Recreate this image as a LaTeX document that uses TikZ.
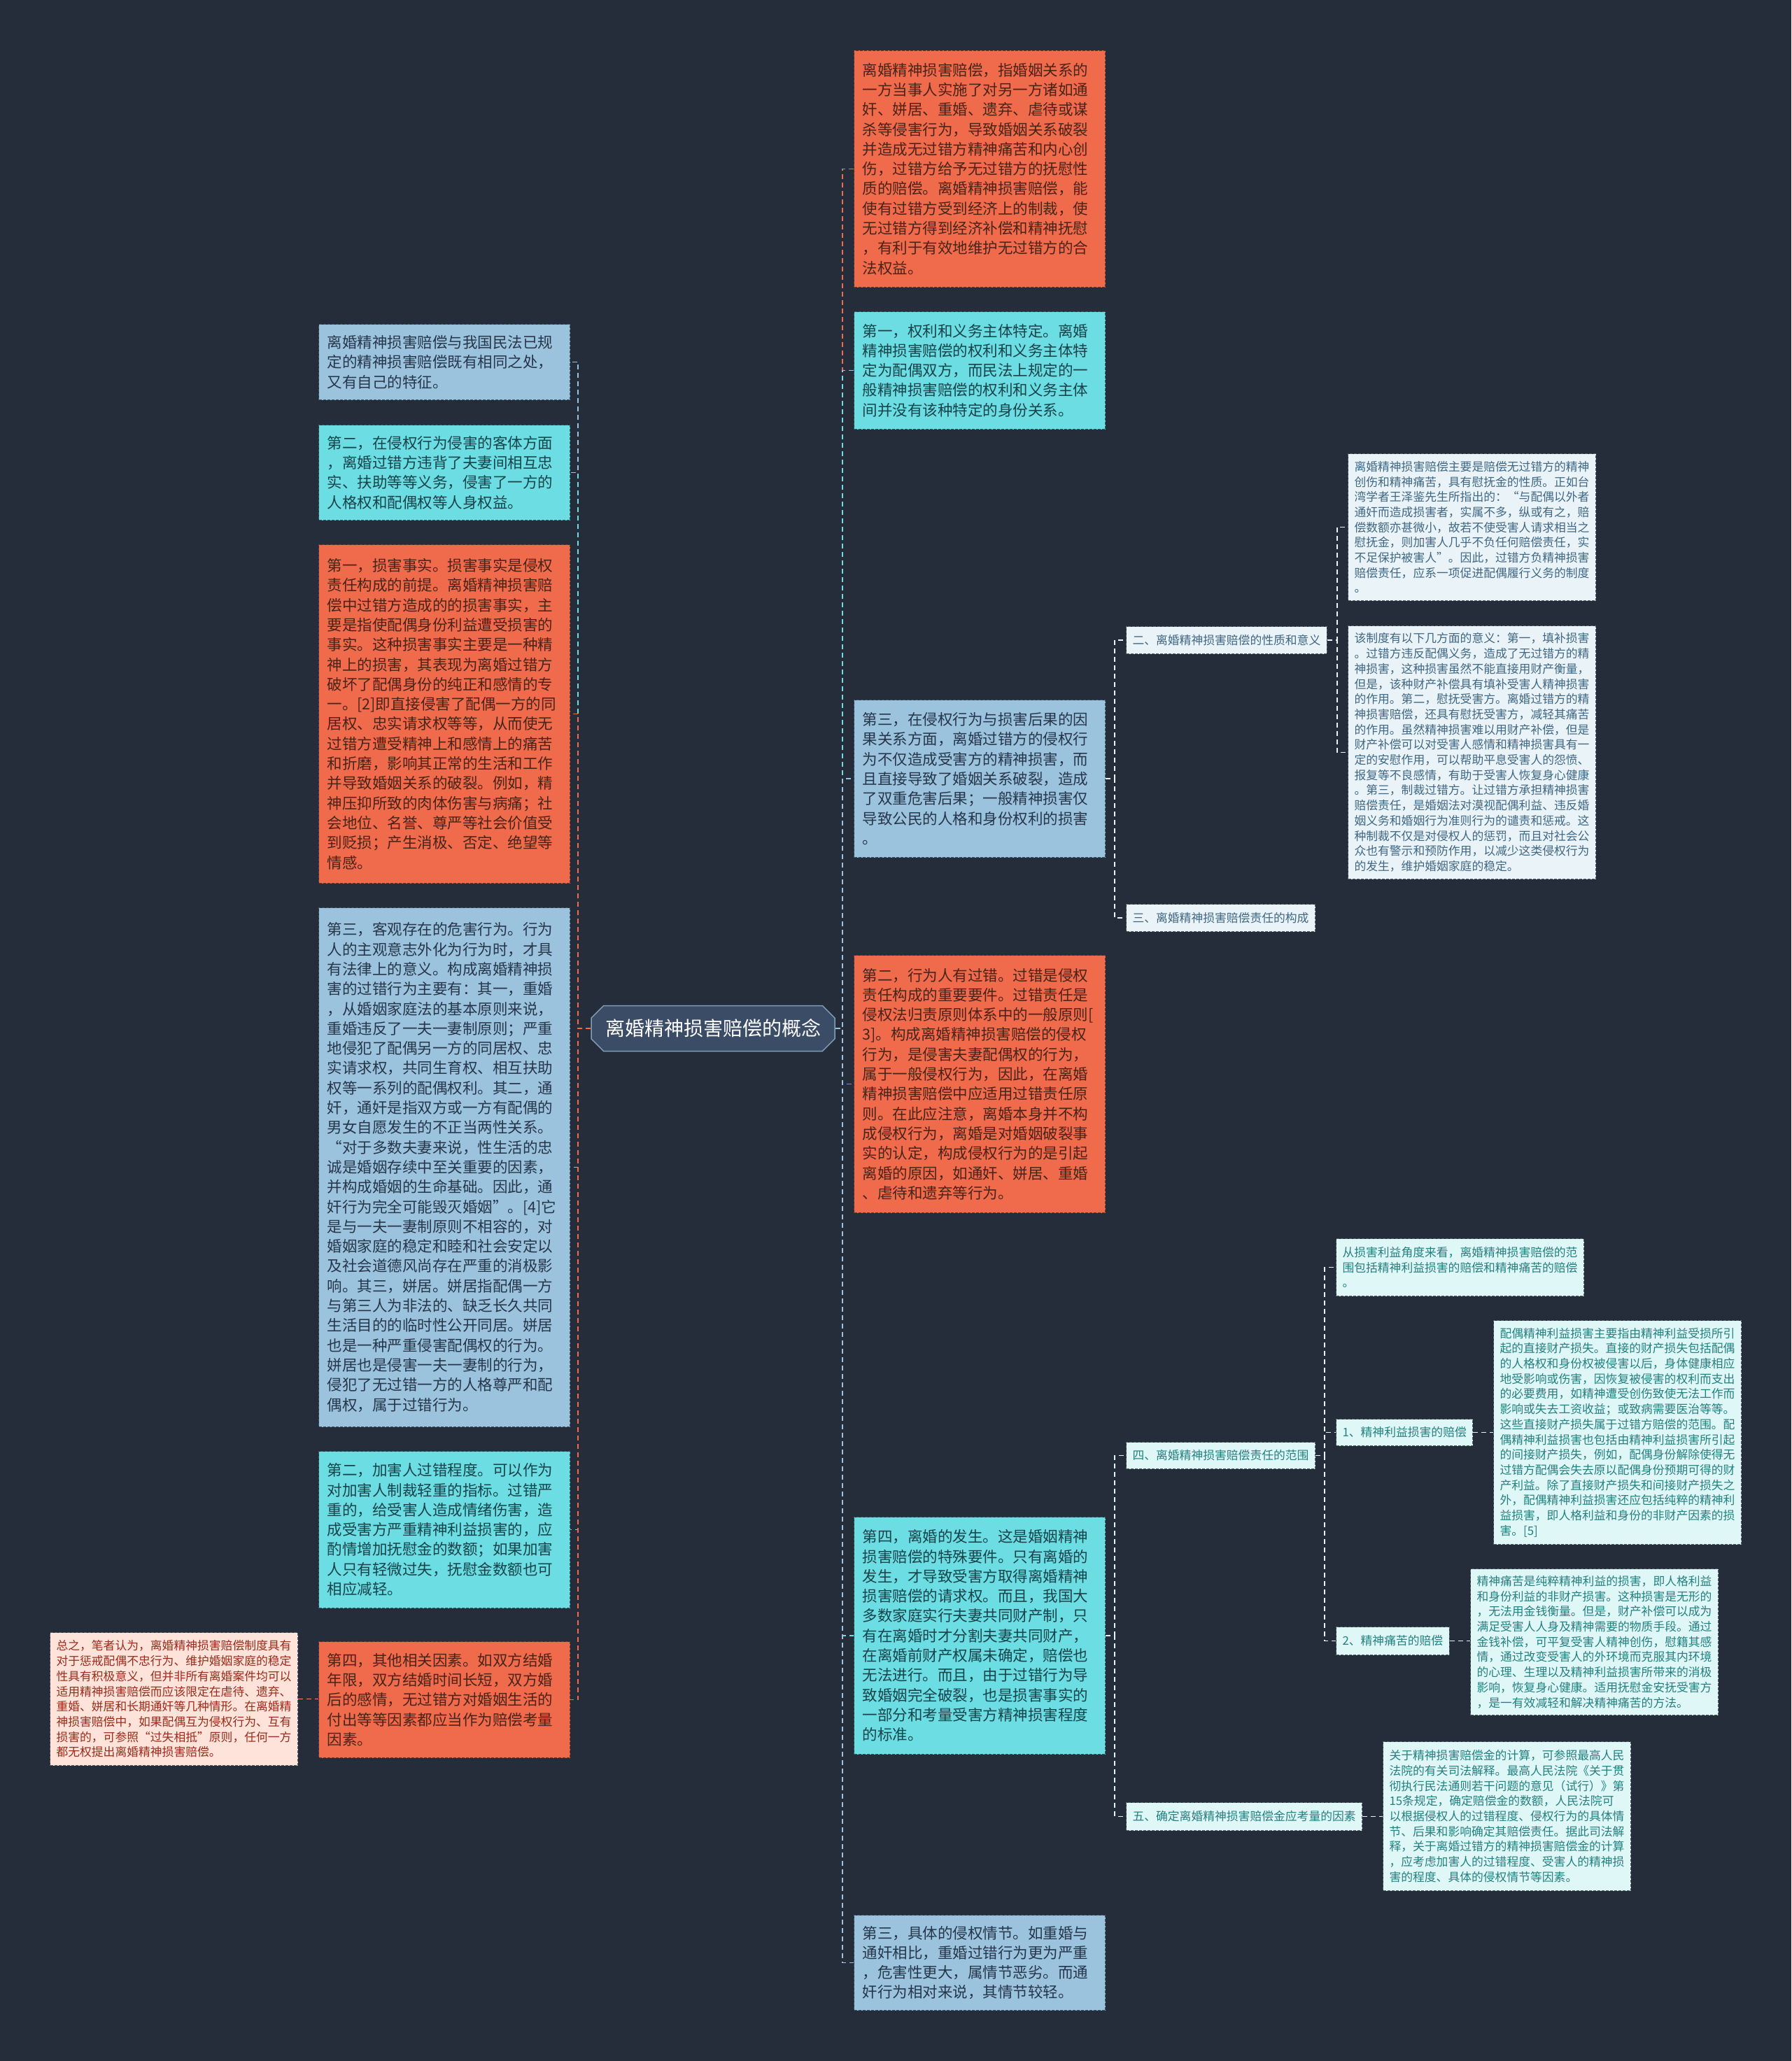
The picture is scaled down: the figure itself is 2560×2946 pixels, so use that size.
\documentclass[tikz,border=0pt]{standalone}
\usepackage{fontspec}
\setmainfont{Noto Sans CJK SC}
\usetikzlibrary{shapes.misc}
\definecolor{bg}{HTML}{252D3B}
\definecolor{orF}{HTML}{EF6B4C}
\definecolor{orT}{HTML}{4A2318}
\definecolor{orB}{HTML}{6A3A2E}
\definecolor{cyF}{HTML}{6BDDE3}
\definecolor{cyT}{HTML}{17434A}
\definecolor{cyB}{HTML}{2E5E66}
\definecolor{lbF}{HTML}{9CC3DD}
\definecolor{lbT}{HTML}{26364A}
\definecolor{lbB}{HTML}{3E5468}
\definecolor{pbF}{HTML}{EAF3F8}
\definecolor{pbT}{HTML}{3F6783}
\definecolor{pcF}{HTML}{E0F7F8}
\definecolor{pcT}{HTML}{23807F}
\definecolor{pkF}{HTML}{FDE3DA}
\definecolor{pkT}{HTML}{9B2B1A}
\definecolor{pB}{HTML}{555F6A}
\definecolor{rootF}{HTML}{3B4C66}
\begin{document}
\begin{tikzpicture}[x=1pt,y=-1pt,
  base/.style={rectangle, dashed, dash pattern=on 4pt off 2pt, line width=1pt, inner ysep=0pt, align=left, anchor=north west},
  big/.style={base, inner xsep=12pt, text width=335pt, font=\fontsize{21.5}{28.3}\selectfont},
  sml/.style={base, inner xsep=9pt, text width=336pt, font=\fontsize{16.8}{21.7}\selectfont},
  lab/.style={base, inner xsep=9pt, font=\fontsize{16.8}{21.7}\selectfont},
  orbox/.style={big, fill=orF, draw=orB, text=orT},
  cybox/.style={big, fill=cyF, draw=cyB, text=cyT},
  lbbox/.style={big, fill=lbF, draw=lbB, text=lbT},
  pbbox/.style={fill=pbF, draw=pB, text=pbT},
  pcbox/.style={fill=pcF, draw=pB, text=pcT},
  pkbox/.style={sml, fill=pkF, draw=pB, text=pkT},
  conn/.style={line width=1.6pt, dash pattern=on 7pt off 5pt},
  rootbox/.style={chamfered rectangle, chamfered rectangle xsep=14pt, fill=rootF, draw=lbF!70!rootF, line width=1.5pt, text=white, font=\fontsize{28}{34}\selectfont, minimum width=348pt, minimum height=65pt, inner xsep=6pt}
]
\useasboundingbox[fill=bg] (0,0) rectangle (2560,2946);

% root
\node[rootbox] (root) at (1019,1470) {离婚精神损害赔偿的概念};

% right column
\node[orbox, minimum height=338pt] (R1) at (1220,72) {离婚精神损害赔偿，指婚姻关系的\\一方当事人实施了对另一方诸如通\\奸、姘居、重婚、遗弃、虐待或谋\\杀等侵害行为，导致婚姻关系破裂\\并造成无过错方精神痛苦和内心创\\伤，过错方给予无过错方的抚慰性\\质的赔偿。离婚精神损害赔偿，能\\使有过错方受到经济上的制裁，使\\无过错方得到经济补偿和精神抚慰\\，有利于有效地维护无过错方的合\\法权益。};
\node[cybox, minimum height=168pt] (R2) at (1220,445) {第一，权利和义务主体特定。离婚\\精神损害赔偿的权利和义务主体特\\定为配偶双方，而民法上规定的一\\般精神损害赔偿的权利和义务主体\\间并没有该种特定的身份关系。};
\node[lbbox, minimum height=225pt] (R3) at (1220,1000) {第三，在侵权行为与损害后果的因\\果关系方面，离婚过错方的侵权行\\为不仅造成受害方的精神损害，而\\且直接导致了婚姻关系破裂，造成\\了双重危害后果；一般精神损害仅\\导致公民的人格和身份权利的损害\\。};
\node[orbox, minimum height=368pt] (R4) at (1220,1365) {第二，行为人有过错。过错是侵权\\责任构成的重要要件。过错责任是\\侵权法归责原则体系中的一般原则[\\3]。构成离婚精神损害赔偿的侵权\\行为，是侵害夫妻配偶权的行为，\\属于一般侵权行为，因此，在离婚\\精神损害赔偿中应适用过错责任原\\则。在此应注意，离婚本身并不构\\成侵权行为，离婚是对婚姻破裂事\\实的认定，构成侵权行为的是引起\\离婚的原因，如通奸、姘居、重婚\\、虐待和遗弃等行为。};
\node[cybox, minimum height=339pt] (R5) at (1220,2168) {第四，离婚的发生。这是婚姻精神\\损害赔偿的特殊要件。只有离婚的\\发生，才导致受害方取得离婚精神\\损害赔偿的请求权。而且，我国大\\多数家庭实行夫妻共同财产制，只\\有在离婚时才分割夫妻共同财产，\\在离婚前财产权属未确定，赔偿也\\无法进行。而且，由于过错行为导\\致婚姻完全破裂，也是损害事实的\\一部分和考量受害方精神损害程度\\的标准。};
\node[lbbox, minimum height=136pt] (R6) at (1220,2737) {第三，具体的侵权情节。如重婚与\\通奸相比，重婚过错行为更为严重\\，危害性更大，属情节恶劣。而通\\奸行为相对来说，其情节较轻。};

% left column
\node[lbbox, minimum height=108pt] (L1) at (455,463) {离婚精神损害赔偿与我国民法已规\\定的精神损害赔偿既有相同之处，\\又有自己的特征。};
\node[cybox, minimum height=136pt] (L2) at (455,607) {第二，在侵权行为侵害的客体方面\\，离婚过错方违背了夫妻间相互忠\\实、扶助等等义务，侵害了一方的\\人格权和配偶权等人身权益。};
\node[orbox, minimum height=484pt] (L3) at (455,778) {第一，损害事实。损害事实是侵权\\责任构成的前提。离婚精神损害赔\\偿中过错方造成的的损害事实，主\\要是指使配偶身份利益遭受损害的\\事实。这种损害事实主要是一种精\\神上的损害，其表现为离婚过错方\\破坏了配偶身份的纯正和感情的专\\一。[2]即直接侵害了配偶一方的同\\居权、忠实请求权等等，从而使无\\过错方遭受精神上和感情上的痛苦\\和折磨，影响其正常的生活和工作\\并导致婚姻关系的破裂。例如，精\\神压抑所致的肉体伤害与病痛；社\\会地位、名誉、尊严等社会价值受\\到贬损；产生消极、否定、绝望等\\情感。};
\node[lbbox, minimum height=742pt] (L4) at (455,1297) {第三，客观存在的危害行为。行为\\人的主观意志外化为行为时，才具\\有法律上的意义。构成离婚精神损\\害的过错行为主要有：其一，重婚\\，从婚姻家庭法的基本原则来说，\\重婚违反了一夫一妻制原则；严重\\地侵犯了配偶另一方的同居权、忠\\实请求权，共同生育权、相互扶助\\权等一系列的配偶权利。其二，通\\奸，通奸是指双方或一方有配偶的\\男女自愿发生的不正当两性关系。\\“对于多数夫妻来说，性生活的忠\\诚是婚姻存续中至关重要的因素，\\并构成婚姻的生命基础。因此，通\\奸行为完全可能毁灭婚姻”。[4]它\\是与一夫一妻制原则不相容的，对\\婚姻家庭的稳定和睦和社会安定以\\及社会道德风尚存在严重的消极影\\响。其三，姘居。姘居指配偶一方\\与第三人为非法的、缺乏长久共同\\生活目的的临时性公开同居。姘居\\也是一种严重侵害配偶权的行为。\\姘居也是侵害一夫一妻制的行为，\\侵犯了无过错一方的人格尊严和配\\偶权，属于过错行为。};
\node[cybox, minimum height=224pt] (L5) at (455,2074) {第二，加害人过错程度。可以作为\\对加害人制裁轻重的指标。过错严\\重的，给受害人造成情绪伤害，造\\成受害方严重精神利益损害的，应\\酌情增加抚慰金的数额；如果加害\\人只有轻微过失，抚慰金数额也可\\相应减轻。};
\node[orbox, minimum height=166pt] (L6) at (455,2346) {第四，其他相关因素。如双方结婚\\年限，双方结婚时间长短，双方婚\\后的感情，无过错方对婚姻生活的\\付出等等因素都应当作为赔偿考量\\因素。};
\node[pkbox, minimum height=190pt] (LL) at (71,2333) {总之，笔者认为，离婚精神损害赔偿制度具有\\对于惩戒配偶不忠行为、维护婚姻家庭的稳定\\性具有积极意义，但并非所有离婚案件均可以\\适用精神损害赔偿而应该限定在虐待、遗弃、\\重婚、姘居和长期通奸等几种情形。在离婚精\\神损害赔偿中，如果配偶互为侵权行为、互有\\损害的，可参照“过失相抵”原则，任何一方\\都无权提出离婚精神损害赔偿。};

% section labels
\node[lab, pbbox, minimum height=39pt] (S2) at (1609,895) {二、离婚精神损害赔偿的性质和意义};
\node[lab, pbbox, minimum height=39pt] (S3) at (1609,1292) {三、离婚精神损害赔偿责任的构成};
\node[lab, pcbox, minimum height=38pt] (S4) at (1609,2061) {四、离婚精神损害赔偿责任的范围};
\node[lab, pcbox, minimum height=40pt] (S5) at (1609,2576) {五、确定离婚精神损害赔偿金应考量的因素};

\node[sml, pbbox, minimum height=210pt] (RR1) at (1926,648) {离婚精神损害赔偿主要是赔偿无过错方的精神\\创伤和精神痛苦，具有慰抚金的性质。正如台\\湾学者王泽鉴先生所指出的：“与配偶以外者\\通奸而造成损害者，实属不多，纵或有之，赔\\偿数额亦甚微小，故若不使受害人请求相当之\\慰抚金，则加害人几乎不负任何赔偿责任，实\\不足保护被害人”。因此，过错方负精神损害\\赔偿责任，应系一项促进配偶履行义务的制度\\。};
\node[sml, pbbox, minimum height=362pt] (RR2) at (1926,894) {该制度有以下几方面的意义：第一，填补损害\\。过错方违反配偶义务，造成了无过错方的精\\神损害，这种损害虽然不能直接用财产衡量，\\但是，该种财产补偿具有填补受害人精神损害\\的作用。第二，慰抚受害方。离婚过错方的精\\神损害赔偿，还具有慰抚受害方，减轻其痛苦\\的作用。虽然精神损害难以用财产补偿，但是\\财产补偿可以对受害人感情和精神损害具有一\\定的安慰作用，可以帮助平息受害人的怨愤、\\报复等不良感情，有助于受害人恢复身心健康\\。第三，制裁过错方。让过错方承担精神损害\\赔偿责任，是婚姻法对漠视配偶利益、违反婚\\姻义务和婚姻行为准则行为的谴责和惩戒。这\\种制裁不仅是对侵权人的惩罚，而且对社会公\\众也有警示和预防作用，以减少这类侵权行为\\的发生，维护婚姻家庭的稳定。};

\node[sml, pcbox, minimum height=82pt] (SS1) at (1909,1770) {从损害利益角度来看，离婚精神损害赔偿的范\\围包括精神利益损害的赔偿和精神痛苦的赔偿\\。};
\node[lab, pcbox, minimum height=38pt] (T1) at (1909,2028) {1、精神利益损害的赔偿};
\node[sml, pcbox, minimum height=320pt] (P1) at (2134,1887) {配偶精神利益损害主要指由精神利益受损所引\\起的直接财产损失。直接的财产损失包括配偶\\的人格权和身份权被侵害以后，身体健康相应\\地受影响或伤害，因恢复被侵害的权利而支出\\的必要费用，如精神遭受创伤致使无法工作而\\影响或失去工资收益；或致病需要医治等等。\\这些直接财产损失属于过错方赔偿的范围。配\\偶精神利益损害也包括由精神利益损害所引起\\的间接财产损失，例如，配偶身份解除使得无\\过错方配偶会失去原以配偶身份预期可得的财\\产利益。除了直接财产损失和间接财产损失之\\外，配偶精神利益损害还应包括纯粹的精神利\\益损害，即人格利益和身份的非财产因素的损\\害。[5]};
\node[lab, pcbox, minimum height=40pt] (T2) at (1909,2325) {2、精神痛苦的赔偿};
\node[sml, pcbox, minimum height=209pt] (P2) at (2101,2242) {精神痛苦是纯粹精神利益的损害，即人格利益\\和身份利益的非财产损害。这种损害是无形的\\，无法用金钱衡量。但是，财产补偿可以成为\\满足受害人人身及精神需要的物质手段。通过\\金钱补偿，可平复受害人精神创伤，慰籍其感\\情，通过改变受害人的外环境而克服其内环境\\的心理、生理以及精神利益损害所带来的消极\\影响，恢复身心健康。适用抚慰金安抚受害方\\，是一有效减轻和解决精神痛苦的方法。};
\node[sml, pcbox, minimum height=213pt] (Q) at (1976,2489) {关于精神损害赔偿金的计算，可参照最高人民\\法院的有关司法解释。最高人民法院《关于贯\\彻执行民法通则若干问题的意见（试行）》第\\15条规定，确定赔偿金的数额，人民法院可\\以根据侵权人的过错程度、侵权行为的具体情\\节、后果和影响确定其赔偿责任。据此司法解\\释，关于离婚过错方的精神损害赔偿金的计算\\，应考虑加害人的过错程度、受害人的精神损\\害的程度、具体的侵权情节等因素。};

% trunk coordinates
\coordinate (tl) at (826,0);
\coordinate (tr) at (1204,0);
\coordinate (ts) at (1593,0);
\coordinate (t2) at (1911,0);
\coordinate (t4) at (1893,0);

% connectors root -> left
\foreach \n/\c in {L1/lbF, L2/cyF, L3/orF, L4/lbF, L5/cyF, L6/orF}
  \draw[conn, \c] (root.west) -| (tl |- \n.east) -- (\n.east);
% root -> right
\foreach \n/\c in {R1/orF, R2/cyF, R3/lbF, R4/orF, R5/cyF, R6/lbF}
  \draw[conn, \c] (root.east) -| (tr |- \n.west) -- (\n.west);
% LL -> L6
\draw[conn, orF!70!pkF] (LL.east) -- (L6.west |- LL.east);
% R3 -> S2,S3
\foreach \n in {S2, S3}
  \draw[conn, pbF] (R3.east) -| (ts |- \n.west) -- (\n.west);
% R5 -> S4,S5
\foreach \n in {S4, S5}
  \draw[conn, pcF] (R5.east) -| (ts |- \n.west) -- (\n.west);
% S2 -> RR1, RR2
\foreach \n in {RR1, RR2}
  \draw[conn, pbF] (S2.east) -| (t2 |- \n.west) -- (\n.west);
% S4 -> SS1, T1, T2
\foreach \n in {SS1, T1, T2}
  \draw[conn, pcF] (S4.east) -| (t4 |- \n.west) -- (\n.west);
\draw[conn, pcF] (T1.east) -- (P1.west |- T1.east);
\draw[conn, pcF] (T2.east) -- (P2.west |- T2.east);
\draw[conn, pcF] (S5.east) -- (Q.west |- S5.east);
\end{tikzpicture}
\end{document}
